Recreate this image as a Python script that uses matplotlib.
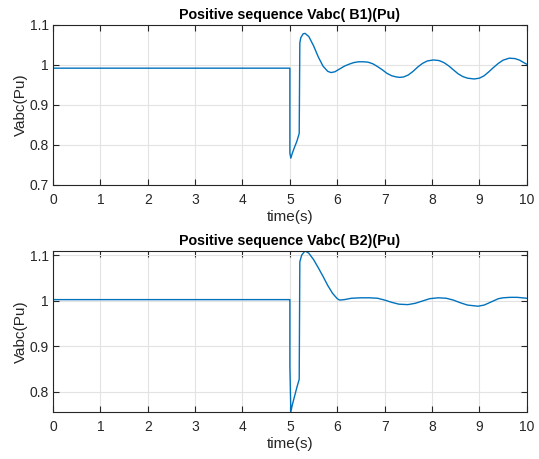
import matplotlib.pyplot as plt

# Bus B1 positive sequence voltage (pu)
t_b1 = [0, 4.999, 5.0, 5.0, 5.02, 5.05, 5.1, 5.15, 5.197, 5.21, 5.23, 5.28,
        5.32, 5.4, 5.5, 5.6, 5.7, 5.8, 5.87, 5.95, 6.05, 6.15, 6.25, 6.35,
        6.45, 6.55, 6.65, 6.75, 6.85, 6.95, 7.05, 7.15, 7.25, 7.32, 7.4,
        7.5, 7.6, 7.7, 7.8, 7.9, 8.03, 8.15, 8.25, 8.35, 8.45, 8.55, 8.65,
        8.75, 8.89, 9.0, 9.1, 9.2, 9.3, 9.4, 9.5, 9.63, 9.75, 9.85, 9.95,
        10.0]
v_b1 = [0.992, 0.992, 0.992, 0.78, 0.767, 0.779, 0.795, 0.81, 0.829, 1.055,
        1.068, 1.078, 1.079, 1.071, 1.048, 1.02, 0.997, 0.984, 0.981, 0.983,
        0.99, 0.997, 1.002, 1.006, 1.008, 1.008, 1.007, 1.003, 0.996, 0.988,
        0.979, 0.973, 0.97, 0.969, 0.97, 0.975, 0.984, 0.995, 1.004, 1.01,
        1.0125, 1.011, 1.006, 0.998, 0.988, 0.978, 0.971, 0.967, 0.965,
        0.967, 0.973, 0.983, 0.994, 1.004, 1.012, 1.017, 1.016, 1.012,
        1.005, 1.002]

# Bus B2 positive sequence voltage (pu)
t_b2 = [0, 4.999, 5.0, 5.0, 5.0, 5.02, 5.05, 5.1, 5.15, 5.197, 5.21, 5.25,
        5.32, 5.4, 5.5, 5.6, 5.7, 5.8, 5.9, 6.0, 6.05, 6.15, 6.3, 6.5,
        6.68, 6.85, 7.0, 7.15, 7.3, 7.49, 7.65, 7.8, 7.95, 8.13, 8.3, 8.45,
        8.6, 8.75, 8.97, 9.1, 9.25, 9.4, 9.5, 9.65, 9.8, 9.9, 10.0]
v_b2 = [1.002, 1.002, 1.002, 0.886, 0.857, 0.755, 0.77, 0.79, 0.81, 0.827,
        1.085, 1.1, 1.109, 1.104, 1.09, 1.072, 1.053, 1.033, 1.016, 1.004,
        1.001, 1.002, 1.005, 1.006, 1.006, 1.005, 1.001, 0.996, 0.992,
        0.991, 0.994, 0.999, 1.004, 1.006, 1.005, 1.001, 0.995, 0.99, 0.9875,
        0.99, 0.997, 1.004, 1.006, 1.007, 1.007, 1.006, 1.005]

plt.rcParams['font.family'] = ['Liberation Sans', 'DejaVu Sans']

fig = plt.figure(figsize=(5.39, 4.59), dpi=100)
ax1 = fig.add_axes([0.0983, 0.597, 0.879, 0.3486])
ax2 = fig.add_axes([0.0983, 0.1024, 0.879, 0.3514])

panels = [(ax1, t_b1, v_b1, 'Positive sequence Vabc( B1)(Pu)', (0.7, 1.1),
           [0.7, 0.8, 0.9, 1.0, 1.1], ['0.7', '0.8', '0.9', '1', '1.1']),
          (ax2, t_b2, v_b2, 'Positive sequence Vabc( B2)(Pu)', (0.755, 1.1095),
           [0.8, 0.9, 1.0, 1.1], ['0.8', '0.9', '1', '1.1'])]

for ax, t, v, title, ylim, yt, ytl in panels:
    ax.plot(t, v, color='#0072BD', lw=1.0)
    ax.set_xlim(0, 10)
    ax.set_ylim(*ylim)
    ax.set_xticks(range(11))
    ax.set_yticks(yt)
    ax.set_yticklabels(ytl)
    ax.grid(True, color='#e3e3e3', lw=0.8)
    ax.set_axisbelow(True)
    ax.tick_params(direction='in', top=True, right=True, labelsize=10,
                   colors='#262626', length=4, width=0.8)
    ax.tick_params(axis='x', pad=6)
    ax.tick_params(axis='y', pad=3)
    for s in ax.spines.values():
        s.set_color('#262626')
        s.set_linewidth(0.8)
    ax.set_title(title, fontsize=10.3, fontweight='bold', pad=4)
    ax.set_xlabel('time(s)', fontsize=11, color='#262626', labelpad=2)
    ax.set_ylabel('Vabc(Pu)', fontsize=11, color='#262626', labelpad=1)

fig.savefig('out.png', dpi=100)
